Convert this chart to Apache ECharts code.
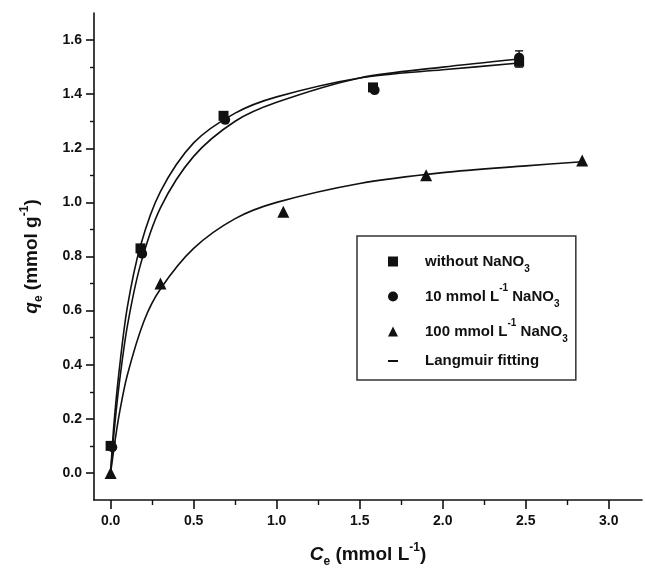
<!DOCTYPE html>
<html>
<head>
<meta charset="utf-8">
<title>Langmuir isotherm</title>
<script src="https://cdn.jsdelivr.net/npm/echarts@6/dist/echarts.min.js"></script>
<style>
  html, body { margin: 0; padding: 0; background: #fff; }
  #chart { width: 645px; height: 568px; }
</style>
</head>
<body>
<div id="chart"></div>
<script>
// measured points (Ce, qe)
const xWithout = [0.0, 0.18, 0.68, 1.58, 2.46];
const qWithout = [0.10, 0.83, 1.32, 1.425, 1.52];
const x10 = [0.01, 0.19, 0.69, 1.59, 2.46];
const q10 = [0.095, 0.81, 1.305, 1.415, 1.535];
const x100 = [0.0, 0.30, 1.04, 1.90, 2.84];
const q100 = [0.0, 0.70, 0.965, 1.10, 1.155];

// error bar
const errX = [2.46];
const errQ = [1.53];
const errD = [0.03];

// Langmuir fitting curves
const fitX = [0, 0.02, 0.05, 0.1, 0.18, 0.3, 0.5, 0.75, 1.0, 1.5, 2.0, 2.46];
const fitWithout = [0, 0.18, 0.37, 0.61, 0.84, 1.04, 1.22, 1.33, 1.39, 1.46, 1.49, 1.515];
const fit10 = [0, 0.145, 0.32, 0.54, 0.77, 0.98, 1.17, 1.30, 1.37, 1.46, 1.50, 1.53];
const fit100X = [0, 0.02, 0.05, 0.1, 0.2, 0.3, 0.5, 0.75, 1.0, 1.5, 2.0, 2.5, 2.84];
const fit100 = [0, 0.09, 0.21, 0.36, 0.56, 0.68, 0.83, 0.94, 1.0, 1.07, 1.11, 1.135, 1.15];

// axis ticks
const xMajor = [0, 0.5, 1.0, 1.5, 2.0, 2.5, 3.0];
const xMinor = [0.25, 0.75, 1.25, 1.75, 2.25, 2.75];
const yMajor = [0, 0.2, 0.4, 0.6, 0.8, 1.0, 1.2, 1.4, 1.6];
const yMinor = [0.1, 0.3, 0.5, 0.7, 0.9, 1.1, 1.3, 1.5];

const zip = (xs, ys) => xs.map((x, i) => [x, ys[i]]);

const FONT = "Liberation Sans";
const INK = "#111";

const legendText = {
  "without NaNO3": "{t|without NaNO}{sub|3}",
  "10 mmol L-1 NaNO3": "{t|10 mmol L}{sup|-1}{t| NaNO}{sub|3}",
  "100 mmol L-1 NaNO3": "{t|100 mmol L}{sup|-1}{t| NaNO}{sub|3}",
  "Langmuir fitting": "{t|Langmuir fitting}{sub|\u00a0}",
};

const richSmall = {
  t: { fontFamily: FONT, fontWeight: "bold", fontSize: 15, color: INK, lineHeight: 26 },
  sup: { fontFamily: FONT, fontWeight: "bold", fontSize: 10, color: INK, verticalAlign: "top", lineHeight: 18 },
  sub: { fontFamily: FONT, fontWeight: "bold", fontSize: 10, color: INK, verticalAlign: "bottom", lineHeight: 18 },
};

const richName = {
  i: { fontFamily: FONT, fontWeight: "bold", fontStyle: "italic", fontSize: 19, color: INK, lineHeight: 26 },
  n: { fontFamily: FONT, fontWeight: "bold", fontSize: 19, color: INK, lineHeight: 26 },
  sup: { fontFamily: FONT, fontWeight: "bold", fontSize: 12, color: INK, verticalAlign: "top", lineHeight: 14 },
  sub: { fontFamily: FONT, fontWeight: "bold", fontSize: 12, color: INK, verticalAlign: "bottom", lineHeight: 14 },
};

const myChart = echarts.init(document.getElementById("chart"));

const lineStyle = { color: INK, width: 1.6 };

const option = {
  animation: false,
  backgroundColor: "#fff",
  grid: { left: 94, right: 3, top: 13, bottom: 68, outerBoundsMode: "none" },
  legend: {
    orient: "vertical",
    left: 357,
    top: 236,
    padding: [18, 8, 6, 31],
    itemGap: 9,
    itemWidth: 10,
    itemHeight: 10,
    borderColor: "#333",
    borderWidth: 1.5,
    textStyle: { rich: richSmall, padding: [0, 0, 0, 22] },
    formatter: (name) => legendText[name],
    data: [
      { name: "without NaNO3", icon: "rect" },
      { name: "10 mmol L-1 NaNO3", icon: "circle" },
      { name: "100 mmol L-1 NaNO3", icon: "triangle" },
      { name: "Langmuir fitting", icon: "path://M0,0L8,0L8,1.6L0,1.6Z" },
    ],
  },
  xAxis: [
    {
      type: "value",
      position: "bottom",
      min: -0.1,
      max: 3.2,
      name: "{i|C}{sub|e}{n| (mmol L}{sup|-1}{n|)}",
      nameLocation: "middle",
      nameGap: 42,
      nameTextStyle: { rich: richName },
      axisLine: { onZero: false, lineStyle: { color: INK, width: 1.6 } },
      axisTick: { show: true, inside: false, length: 9, customValues: xMajor, lineStyle: { color: INK, width: 1.6 } },
      axisLabel: {
        customValues: xMajor,
        margin: 14,
        fontFamily: FONT,
        fontWeight: "bold",
        fontSize: 14,
        color: INK,
        formatter: (v) => v.toFixed(1),
      },
      splitLine: { show: false },
    },
    {
      // minor ticks only
      type: "value",
      position: "bottom",
      min: -0.1,
      max: 3.2,
      axisLine: { show: false, onZero: false },
      axisTick: { show: true, length: 5, customValues: xMinor, lineStyle: { color: INK, width: 1.4 } },
      axisLabel: { show: false },
      splitLine: { show: false },
    },
  ],
  yAxis: [
    {
      type: "value",
      position: "left",
      min: -0.1,
      max: 1.7,
      name: "{i|q}{sub|e}{n| (mmol g}{sup|-1}{n|)}",
      nameLocation: "middle",
      nameGap: 49,
      nameTextStyle: { rich: richName },
      axisLine: { show: true, onZero: false, lineStyle: { color: INK, width: 1.6 } },
      axisTick: { show: true, length: 8, customValues: yMajor, lineStyle: { color: INK, width: 1.6 } },
      axisLabel: {
        customValues: yMajor,
        margin: 12,
        fontFamily: FONT,
        fontWeight: "bold",
        fontSize: 14,
        color: INK,
        formatter: (v) => v.toFixed(1),
      },
      splitLine: { show: false },
    },
    {
      type: "value",
      position: "left",
      min: -0.1,
      max: 1.7,
      axisLine: { show: false, onZero: false },
      axisTick: { show: true, length: 4, customValues: yMinor, lineStyle: { color: INK, width: 1.4 } },
      axisLabel: { show: false },
      splitLine: { show: false },
    },
  ],
  series: [
    {
      name: "Langmuir fitting",
      type: "line",
      data: zip(fitX, fitWithout),
      smooth: 0.3,
      symbol: "none",
      lineStyle: lineStyle,
      itemStyle: { color: INK },
      z: 2,
    },
    {
      name: "Langmuir fitting",
      type: "line",
      data: zip(fitX, fit10),
      smooth: 0.3,
      symbol: "none",
      lineStyle: lineStyle,
      itemStyle: { color: INK },
      z: 2,
    },
    {
      name: "Langmuir fitting",
      type: "line",
      data: zip(fit100X, fit100),
      smooth: 0.3,
      symbol: "none",
      lineStyle: lineStyle,
      itemStyle: { color: INK },
      z: 2,
    },
    {
      name: "without NaNO3",
      type: "scatter",
      symbol: "rect",
      symbolSize: 10,
      data: zip(xWithout, qWithout),
      itemStyle: { color: INK, opacity: 1 },
      z: 3,
    },
    {
      name: "10 mmol L-1 NaNO3",
      type: "scatter",
      symbol: "circle",
      symbolSize: 10,
      data: zip(x10, q10),
      itemStyle: { color: INK, opacity: 1 },
      z: 3,
    },
    {
      name: "100 mmol L-1 NaNO3",
      type: "scatter",
      symbol: "triangle",
      symbolSize: 12,
      data: zip(x100, q100),
      itemStyle: { color: INK, opacity: 1 },
      z: 3,
    },
    {
      // error bars
      type: "custom",
      data: errX.map((x, i) => [x, errQ[i] - errD[i], errQ[i] + errD[i]]),
      renderItem: function (params, api) {
        const lo = api.coord([api.value(0), api.value(1)]);
        const hi = api.coord([api.value(0), api.value(2)]);
        const w = 4;
        const st = { stroke: INK, lineWidth: 1.4 };
        return {
          type: "group",
          children: [
            { type: "line", shape: { x1: lo[0], y1: lo[1], x2: hi[0], y2: hi[1] }, style: st },
            { type: "line", shape: { x1: hi[0] - w, y1: hi[1], x2: hi[0] + w, y2: hi[1] }, style: st },
            { type: "line", shape: { x1: lo[0] - w, y1: lo[1], x2: lo[0] + w, y2: lo[1] }, style: st },
          ],
        };
      },
      z: 4,
    },
  ],
};

myChart.setOption(option);
</script>
</body>
</html>
